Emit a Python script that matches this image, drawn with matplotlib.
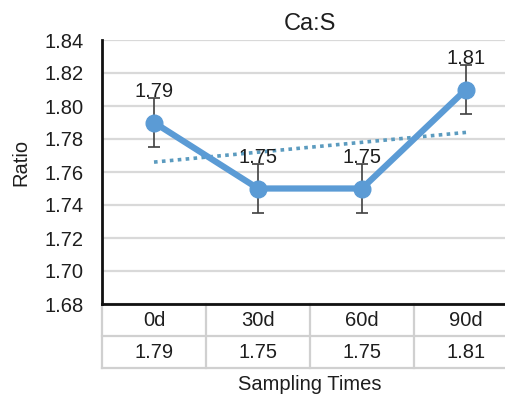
import numpy as np
import matplotlib
matplotlib.use("Agg")
import matplotlib.pyplot as plt
from matplotlib.transforms import blended_transform_factory

plt.rcParams['font.family'] = ['Liberation Sans', 'DejaVu Sans']

categories = ["0d", "30d", "60d", "90d"]
values = [1.79, 1.75, 1.75, 1.81]
errors = [0.015, 0.015, 0.015, 0.015]
yticks = [1.68, 1.70, 1.72, 1.74, 1.76, 1.78, 1.80, 1.82, 1.84]

W, H = 505, 396
FS = 14.5
TXT = "#1e1e1e"
fig = plt.figure(figsize=(W / 100, H / 100), dpi=100)
ax = fig.add_axes([102 / W, 1 - 304 / H, 416 / W, 264 / H])

x = np.arange(1, len(categories) + 1)
line_color = "#5b9bd5"
ax.set_xlim(0.5, len(categories) + 0.5)
ax.set_ylim(1.68, 1.84)
ax.set_yticks(yticks)
ax.set_yticklabels([f"{t:.2f}" for t in yticks], fontsize=FS, color=TXT)
ax.tick_params(axis="y", length=0, pad=13)
ax.set_xticks([])
ax.yaxis.grid(True, color="#d9d9d9", linewidth=1.6)
ax.set_axisbelow(True)
for s in ("top", "right"):
    ax.spines[s].set_visible(False)
for s in ("left", "bottom"):
    ax.spines[s].set_linewidth(2)
    ax.spines[s].set_color("#111111")

# Linear trendline through the series
coef = np.polyfit(x, values, 1)
ax.plot(x, np.polyval(coef, x), linestyle=(0, (1, 1.2)), color="#5b9bbf",
        linewidth=2.6, zorder=2)

ax.errorbar(x, values, yerr=errors, fmt="none", ecolor="#404040",
            elinewidth=1.2, capsize=4.5, capthick=1.2, zorder=3)
ax.plot(x, values, color=line_color, linewidth=4.5, marker="o",
        markersize=12, zorder=4)

for xi, v in zip(x, values):
    ax.annotate(f"{v:.2f}", (xi, v), xytext=(0, 22), textcoords="offset points",
                ha="center", va="center", fontsize=FS, color=TXT, zorder=5)

ax.set_title("Ca:S", fontsize=17, pad=7, color=TXT)
fig.text(21 / W, 1 - 162 / H, "Ratio", rotation=90, ha="center", va="center",
         fontsize=FS, color=TXT)

# Data table beneath the axis
tr = blended_transform_factory(ax.transData, fig.transFigure)
row1 = 1 - 336 / H
row2 = 1 - 368 / H
bottom = 1 - 304 / H
grid_kw = dict(color="#d0d0d0", linewidth=1.6, clip_on=False)
for yy in (row1, row2):
    ax.plot([0.5, len(categories) + 0.5], [yy, yy], transform=tr, **grid_kw)
for xx in np.arange(0.5, len(categories) + 1, 1.0):
    ax.plot([xx, xx], [bottom, row2], transform=tr, **grid_kw)
for xi, c, v in zip(x, categories, values):
    ax.text(xi, (bottom + row1) / 2, c, transform=tr, ha="center", va="center",
            fontsize=FS, color=TXT)
    ax.text(xi, (row1 + row2) / 2, f"{v:.2f}", transform=tr, ha="center",
            va="center", fontsize=FS, color=TXT)

fig.text(310 / W, 1 - 385 / H, "Sampling Times", ha="center", va="center",
         fontsize=FS, color=TXT)

fig.savefig("out.png", dpi=100)
